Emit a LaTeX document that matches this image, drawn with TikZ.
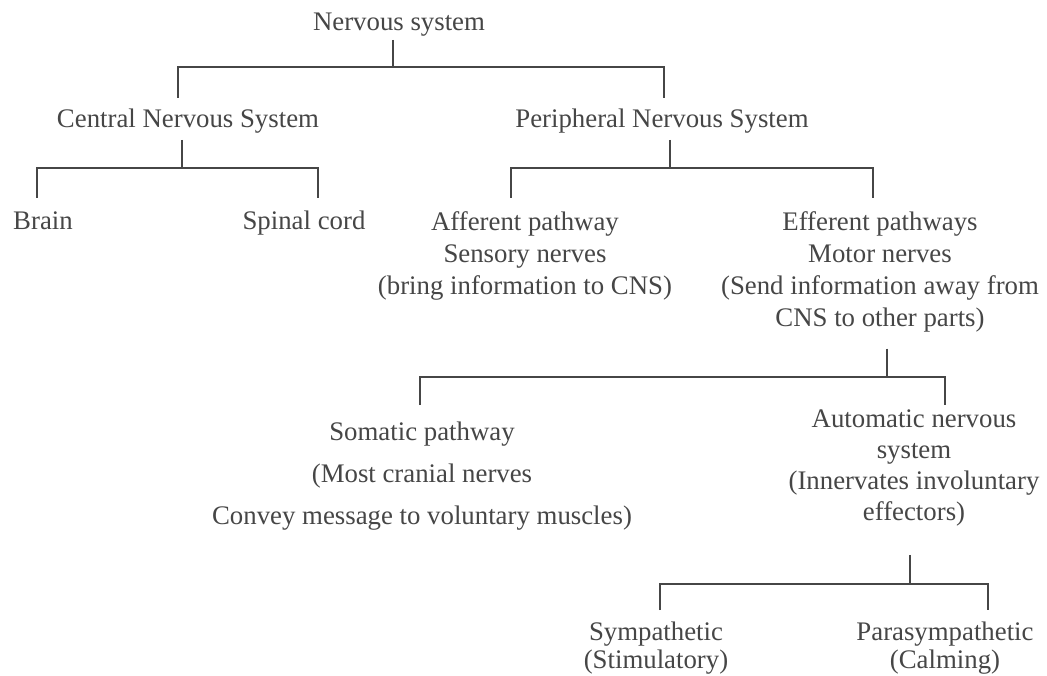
\documentclass[tikz,border=0pt]{standalone}
\usepackage{fontspec}
\setmainfont{Liberation Serif}
\definecolor{txtgray}{RGB}{70,70,70}
\definecolor{linegray}{RGB}{70,70,70}
\begin{document}
\begin{tikzpicture}[x=1pt,y=-1pt,
  lbl/.style={font=\fontsize{26.8}{32}\selectfont, text=txtgray, inner sep=0pt, anchor=base},
  blk/.style={font=\fontsize{26.8}{32}\selectfont, text=txtgray, inner sep=0pt, anchor=north, align=center},
  conn/.style={draw=linegray, line width=2.4pt}]
\useasboundingbox[fill=white] (0,0) rectangle (1047,676);

% texts
\node[lbl] (ns) at (399,31) {Nervous system};
\node[lbl] (cns) at (188,128) {Central Nervous System};
\node[lbl] (pns) at (662,128) {Peripheral Nervous System};
\node[lbl] (brain) at (43,230) {Brain};
\node[lbl] (spinal) at (304,230) {Spinal cord};
\node[blk] (aff) at (525,211.7) {Afferent pathway\\Sensory nerves\\(bring information to CNS)};
\node[blk] (eff) at (880,211.7) {Efferent pathways\\Motor nerves\\(Send information away from\\CNS to other parts)};
\node[blk] (som) at (422,421.5) {Somatic pathway\\[10pt](Most cranial nerves\\[10pt]Convey message to voluntary muscles)};
\node[blk, font=\fontsize{26.8}{31}\selectfont] (ans) at (914,410) {Automatic nervous\\system\\(Innervates involuntary\\effectors)};
\node[blk, font=\fontsize{26.8}{28}\selectfont] (sym) at (656,621.5) {Sympathetic\\(Stimulatory)};
\node[blk, font=\fontsize{26.8}{28}\selectfont] (para) at (945,621.5) {Parasympathetic\\(Calming)};

% junctions and drop ends
\coordinate (nsJ) at (393,67);
\coordinate (nsL) at (178,98);
\coordinate (nsR) at (664,98);
\coordinate (cnsJ) at (182,168);
\coordinate (cnsL) at (37,198);
\coordinate (cnsR) at (318,198);
\coordinate (pnsJ) at (670,168);
\coordinate (pnsL) at (511,198);
\coordinate (pnsR) at (873,198);
\coordinate (effJ) at (887,377);
\coordinate (effL) at (420,405);
\coordinate (effR) at (945,405);
\coordinate (ansJ) at (910,584);
\coordinate (ansL) at (660,610);
\coordinate (ansR) at (988,610);

% connectors
\draw[conn, shorten <=3pt] (ns.south -| nsJ) -- (nsJ);
\draw[conn] (nsL) |- (nsJ) -| (nsR);
\draw[conn, shorten <=6pt] (cns.south -| cnsJ) -- (cnsJ);
\draw[conn] (cnsL) |- (cnsJ) -| (cnsR);
\draw[conn, shorten <=6pt] (pns.south -| pnsJ) -- (pnsJ);
\draw[conn] (pnsL) |- (pnsJ) -| (pnsR);
\draw[conn, shorten <=16pt] (eff.south -| effJ) -- (effJ);
\draw[conn] (effL) |- (effJ) -| (effR);
\draw[conn, shorten <=28pt] (ans.south -| ansJ) -- (ansJ);
\draw[conn] (ansL) |- (ansJ) -| (ansR);
\end{tikzpicture}
\end{document}
